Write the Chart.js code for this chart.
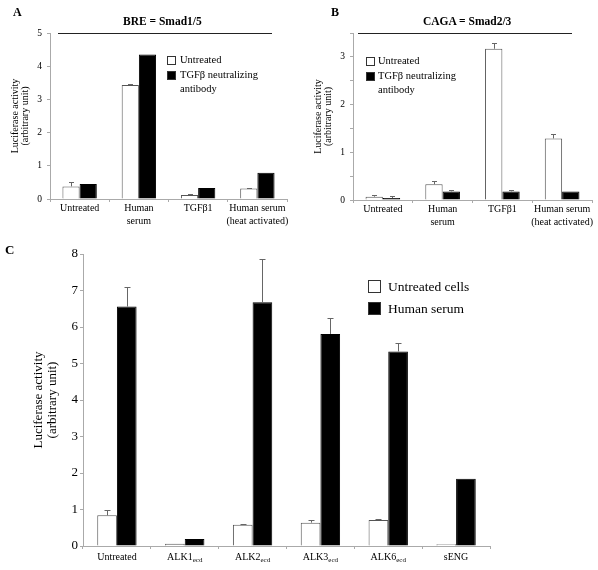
<!DOCTYPE html>
<html>
<head>
<meta charset="utf-8">
<script src="https://cdn.jsdelivr.net/npm/chart.js@4.4.0/dist/chart.umd.min.js"></script>
<style>
  body { margin: 0; background: #fff; font-family: "Liberation Serif", "Times New Roman", serif; }
  #wrap { position: relative; width: 598px; height: 570px; overflow: hidden; }
  .box { position: absolute; }
  .txt { position: absolute; white-space: nowrap; color: #000; line-height: 1; }
  .bold { font-weight: bold; }
  .rule { position: absolute; height: 0; border-top: 1.5px solid #222; }
  .sw { position: absolute; border: 1px solid #333; box-sizing: border-box; }
</style>
</head>
<body>
<div id="wrap">
  <div class="box" style="left:0;top:0;width:295px;height:240px"><canvas id="chartA"></canvas></div>
  <div class="box" style="left:295px;top:0;width:303px;height:240px"><canvas id="chartB"></canvas></div>
  <div class="box" style="left:0;top:235px;width:598px;height:335px"><canvas id="chartC"></canvas></div>

  <div class="txt bold" style="left:13px;top:6px;font-size:12px">A</div>
  <div class="txt bold" style="left:123px;top:16px;font-size:11.5px">BRE = Smad1/5</div>
  <div class="rule" style="left:58px;top:33px;width:214px"></div>
  <div class="sw" style="left:167px;top:56px;width:9px;height:9px;background:#fff"></div>
  <div class="txt" style="left:180px;top:55px;font-size:10.5px">Untreated</div>
  <div class="sw" style="left:167px;top:71px;width:9px;height:9px;background:#000"></div>
  <div class="txt" style="left:180px;top:70px;font-size:10.5px">TGFβ neutralizing</div>
  <div class="txt" style="left:180px;top:84px;font-size:10.5px">antibody</div>

  <div class="txt bold" style="left:331px;top:6px;font-size:12px">B</div>
  <div class="txt bold" style="left:423px;top:16px;font-size:11.5px">CAGA = Smad2/3</div>
  <div class="rule" style="left:358px;top:33px;width:214px"></div>
  <div class="sw" style="left:366px;top:57px;width:9px;height:9px;background:#fff"></div>
  <div class="txt" style="left:378px;top:56px;font-size:10.5px">Untreated</div>
  <div class="sw" style="left:366px;top:72px;width:9px;height:9px;background:#000"></div>
  <div class="txt" style="left:378px;top:71px;font-size:10.5px">TGFβ neutralizing</div>
  <div class="txt" style="left:378px;top:85px;font-size:10.5px">antibody</div>

  <div class="txt bold" style="left:5px;top:243px;font-size:13px">C</div>
  <div class="sw" style="left:368px;top:280px;width:13px;height:13px;background:#fff"></div>
  <div class="txt" style="left:388px;top:280px;font-size:13.5px">Untreated cells</div>
  <div class="sw" style="left:368px;top:302px;width:13px;height:13px;background:#000"></div>
  <div class="txt" style="left:388px;top:302px;font-size:13.5px">Human serum</div>
</div>

<script>
// panel A / B categories
const groupsAB = [["Untreated"], ["Human", "serum"], ["TGFβ1"], ["Human serum", "(heat activated)"]];

// A: BRE = Smad1/5
const breUntreated = [0.38, 3.43, 0.12, 0.32];
const breUntreatedErr = [0.12, 0.02, 0.02, 0.01];
const breAntibody = [0.45, 4.35, 0.33, 0.79];
const breAntibodyErr = [0, 0, 0, 0];

// B: CAGA = Smad2/3
const cagaUntreated = [0.07, 0.33, 3.17, 1.29];
const cagaUntreatedErr = [0.04, 0.07, 0.13, 0.09];
const cagaAntibody = [0.04, 0.18, 0.18, 0.18];
const cagaAntibodyErr = [0.04, 0.02, 0.02, 0];

// C: ecd traps
const groupsC = ["Untreated", "ALK1", "ALK2", "ALK3", "ALK6", "sENG"];
const groupsCSub = ["", "ecd", "ecd", "ecd", "ecd", ""];
const cellsUntreated = [0.84, 0.06, 0.58, 0.64, 0.71, 0.05];
const cellsUntreatedErr = [0.15, 0, 0.03, 0.07, 0.03, 0];
const cellsSerum = [6.56, 0.19, 6.68, 5.81, 5.33, 1.84];
const cellsSerumErr = [0.54, 0, 1.17, 0.44, 0.24, 0];

const SERIF = '"Liberation Serif", "Times New Roman", serif';
const AXIS = '#aaa';

const errorBars = {
  id: 'errorBars',
  afterDatasetsDraw(chart) {
    const ctx = chart.ctx, y = chart.scales.y;
    chart.data.datasets.forEach((ds, di) => {
      if (!ds.errors) return;
      chart.getDatasetMeta(di).data.forEach((bar, i) => {
        const e = ds.errors[i];
        if (!e) return;
        const x = Math.round(bar.x) + 0.5;
        const top = Math.round(y.getPixelForValue(ds.data[i] + e)) + 0.5;
        const cap = chart.canvas.id === 'chartC' ? 3 : 2.5;
        ctx.save();
        ctx.strokeStyle = '#666';
        ctx.lineWidth = 1;
        ctx.beginPath();
        ctx.moveTo(x, bar.y);
        ctx.lineTo(x, top);
        ctx.moveTo(x - cap, top);
        ctx.lineTo(x + cap, top);
        ctx.stroke();
        ctx.restore();
      });
    });
  }
};

// x labels of C with subscript "ecd"
const subLabels = {
  id: 'subLabels',
  afterDraw(chart) {
    if (chart.canvas.id !== 'chartC') return;
    const ctx = chart.ctx, xs = chart.scales.x;
    const yy = chart.chartArea.bottom + 11;
    ctx.save();
    ctx.fillStyle = '#000';
    ctx.textBaseline = 'middle';
    groupsC.forEach((g, i) => {
      const cx = xs.getPixelForValue(i);
      ctx.font = '10px ' + SERIF;
      const w1 = ctx.measureText(g).width;
      ctx.font = '7px ' + SERIF;
      const w2 = groupsCSub[i] ? ctx.measureText(groupsCSub[i]).width : 0;
      const x0 = cx - (w1 + w2) / 2;
      ctx.textAlign = 'left';
      ctx.font = '10px ' + SERIF;
      ctx.fillText(g, x0, yy);
      if (groupsCSub[i]) {
        ctx.font = '7px ' + SERIF;
        ctx.fillText(groupsCSub[i], x0 + w1, yy + 3);
      }
    });
    ctx.restore();
  }
};

function barSet(label, data, errors, fill) {
  return {
    label, data, errors,
    backgroundColor: fill,
    borderColor: fill === '#000' ? '#000' : '#555',
    borderWidth: 1,
    categoryPercentage: 0.58,
    barPercentage: 1
  };
}

function makeChart(id, labels, sets, o) {
  return new Chart(document.getElementById(id), {
    type: 'bar',
    data: { labels, datasets: sets },
    options: {
      responsive: true,
      maintainAspectRatio: false,
      animation: false,
      layout: { padding: o.padding },
      plugins: { legend: { display: false }, tooltip: { enabled: false } },
      scales: {
        x: {
          grid: { drawOnChartArea: false, tickLength: 3, color: AXIS, offset: true },
          border: { color: AXIS },
          ticks: {
            font: { family: SERIF, size: 10, lineHeight: 1.3 },
            color: o.hideX ? 'rgba(0,0,0,0)' : '#000',
            padding: 0, maxRotation: 0, autoSkip: false
          },
          afterFit: s => { s.height = o.xh; }
        },
        y: {
          min: 0, max: o.max,
          grid: { drawOnChartArea: false, tickLength: o.tickLen, color: AXIS },
          border: { color: AXIS },
          ticks: {
            stepSize: o.step,
            font: { family: SERIF, size: o.tickSize },
            color: '#000',
            padding: o.tickPad,
            callback: v => Number.isInteger(v) ? v : ''
          },
          title: {
            display: true,
            text: ['Luciferase activity', '(arbitrary unit)'],
            font: { family: SERIF, size: o.titleSize, lineHeight: 1.05 },
            color: '#000',
            padding: 0
          },
          afterFit: s => { s.width = o.yw; }
        }
      }
    },
    plugins: [errorBars, subLabels]
  });
}

makeChart('chartA', groupsAB, [
  barSet('Untreated', breUntreated, breUntreatedErr, '#fff'),
  barSet('TGFβ neutralizing antibody', breAntibody, breAntibodyErr, '#000')
], { padding: { left: 10, top: 33, right: 8, bottom: 0 }, yw: 40, xh: 41, max: 5, step: 1, tickSize: 9.5, tickLen: 3, tickPad: 5, titleSize: 10 });

makeChart('chartB', groupsAB, [
  barSet('Untreated', cagaUntreated, cagaUntreatedErr, '#fff'),
  barSet('TGFβ neutralizing antibody', cagaAntibody, cagaAntibodyErr, '#000')
], { padding: { left: 18, top: 33, right: 6, bottom: 0 }, yw: 40, xh: 40, max: 3.5, step: 0.5, tickSize: 9.5, tickLen: 3, tickPad: 5, titleSize: 10 });

makeChart('chartC', groupsC, [
  barSet('Untreated cells', cellsUntreated, cellsUntreatedErr, '#fff'),
  barSet('Human serum', cellsSerum, cellsSerumErr, '#000')
], { padding: { left: 32, top: 19, right: 108, bottom: 0 }, yw: 51, xh: 24, max: 8, step: 1, tickSize: 13, tickLen: 3, tickPad: 2, titleSize: 13, hideX: true });
</script>
</body>
</html>
